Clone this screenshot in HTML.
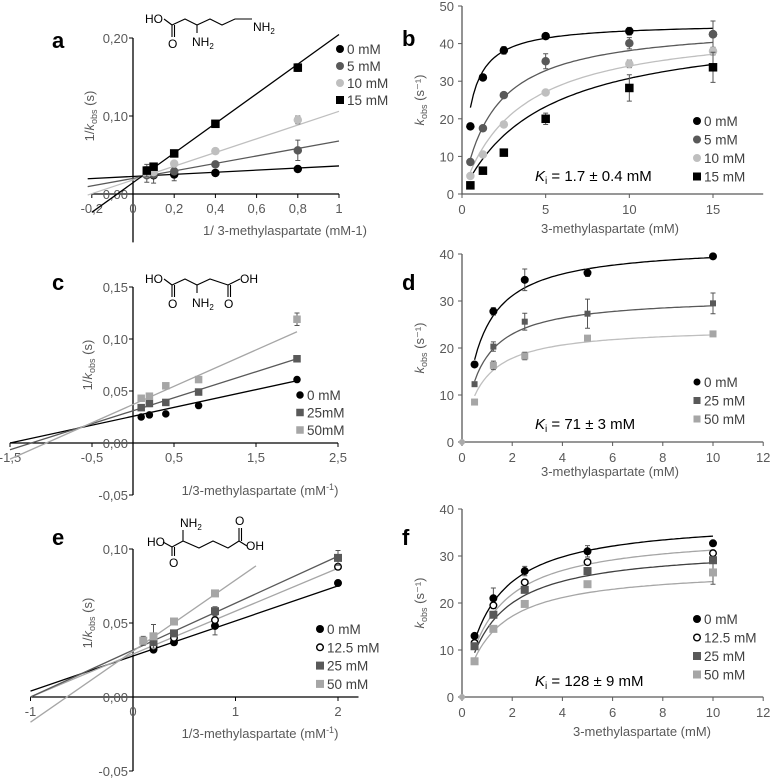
<!DOCTYPE html>
<html><head><meta charset="utf-8">
<style>
html,body{margin:0;padding:0;background:#fff;}
svg{display:block;font-family:"Liberation Sans",sans-serif;}
.tk{font-size:13px;fill:#595959;}
.ttl{font-size:13px;fill:#595959;}
.lg{font-size:13.5px;fill:#404040;}
.pl{font-size:22px;font-weight:bold;fill:#000;}
.ch{font-size:12px;fill:#000;}
</style></head>
<body>
<svg id="fig" width="771" height="778" viewBox="0 0 771 778" xmlns="http://www.w3.org/2000/svg"></svg>
<script>
// ---------- Panel a data (Lineweaver-Burk) ----------
const A_x=[0.067,0.1,0.2,0.4,0.8];
const A_names=["0 mM","5 mM","10 mM","15 mM"];
const A_vals=[[0.025,0.024,0.025,0.027,0.032],[0.024,0.025,0.029,0.038,0.056],[0.026,0.028,0.039,0.055,0.095],[0.030,0.035,0.052,0.090,0.162]];
const A_err=[[0.010,0.010,0.008,0,0],[0,0,0,0,0.013],[0,0,0,0,0.005],[0.008,0,0,0,0.005]];
const A_int=[0.0225,0.020,0.018,0.0145];
const A_slope=[0.0135,0.048,0.088,0.19];
const A_xticks=["-0,2","0","0,2","0,4","0,6","0,8","1"];
const A_xtickv=[-0.2,0,0.2,0.4,0.6,0.8,1];
const A_yticks=["0,00","0,10","0,20"];
const A_ytickv=[0,0.1,0.2];
// ---------- Panel b data ----------
const B_x=[0.5,1.25,2.5,5,10,15];
const B_names=["0 mM","5 mM","10 mM","15 mM"];
const B_vals=[[18,31,38.2,42,43.3,42.5],[8.5,17.5,26.3,35.3,40.1,42.5],[4.8,10.5,18.5,27,34.6,38],[2.3,6.2,11,20,28.2,33.7]];
const B_err=[[0,0,1,0,1,0],[0,0,0,2,1.5,3.5],[0,0,0,0,1,1],[0,0,0,1.5,3.5,4]];
const B_vmax=[45.5,45.5,45.5,45.5];
const B_km=[0.49,1.93,3.37,4.8];
const B_yticks=[0,10,20,30,40,50];
const B_xticks=[0,5,10,15];
// ---------- Panel c data ----------
const C_x=[0.1,0.2,0.4,0.8,2];
const C_names=["0 mM","25mM","50mM"];
const C_vals=[[0.025,0.027,0.028,0.036,0.061],[0.034,0.038,0.039,0.049,0.081],[0.043,0.045,0.055,0.061,0.119]];
const C_err=[[0,0,0,0,0],[0,0.003,0,0,0],[0,0,0,0,0.006]];
const C_int=[0.0257,0.031,0.037];
const C_slope=[0.0171,0.025,0.035];
const C_xticks=["-1,5","-0,5","0,5","1,5","2,5"];
const C_xtickv=[-1.5,-0.5,0.5,1.5,2.5];
const C_yticks=["-0,05","0,00","0,05","0,10","0,15"];
const C_ytickv=[-0.05,0,0.05,0.1,0.15];
// ---------- Panel d data ----------
const D_x=[0.5,1.25,2.5,5,10];
const D_names=["0 mM","25 mM","50 mM"];
const D_vals=[[16.5,27.8,34.5,36,39.5],[12.3,20.3,25.6,27.3,29.5],[8.5,16.3,18.3,22.1,23]];
const D_err=[[0,0.8,2.3,0.8,0],[0,1,1.8,3.1,2.2],[0,0.9,0.8,0,0]];
const D_vmax=[42,31,24.5];
const D_km=[0.7,0.7,0.75];
const D_yticks=[0,10,20,30,40];
const D_xticks=[0,2,4,6,8,10,12];
// ---------- Panel e data ----------
const E_x=[0.1,0.2,0.4,0.8,2];
const E_names=["0 mM","12.5 mM","25 mM","50 mM"];
const E_vals=[[null,0.032,0.037,0.048,0.077],[null,0.034,0.040,0.052,0.088],[null,0.037,0.043,0.058,0.094],[0.038,0.041,0.051,0.070,null]];
const E_err=[[0,0,0,0.006,0],[0,0,0,0,0],[0,0,0,0.003,0.005],[0.003,0.008,0,0,0]];
const E_int=[0.0277,0.029,0.0317,0.031];
const E_slope=[0.0237,0.029,0.0317,0.048];
const E_lineEnd=[2,2,2,1.2];
const E_xticks=["-1","0","1","2"];
const E_xtickv=[-1,0,1,2];
const E_yticks=["-0,05","0,00","0,05","0,10"];
const E_ytickv=[-0.05,0,0.05,0.1];
// ---------- Panel f data ----------
const F_x=[0.5,1.25,2.5,5,10];
const F_names=["0 mM","12.5 mM","25 mM","50 mM"];
const F_vals=[[13,21,26.8,31,32.7],[11.5,19.5,24.4,28.7,30.6],[10.8,17.5,22.8,26.8,29.1],[7.6,14.5,19.8,24,26.5]];
const F_err=[[0,2.2,1,1.2,0],[0,0,0,0,0],[0,0,0,0,0],[0,0,0,0,2.5]];
const F_vmax=[38,35,32,27.5];
const F_km=[1.1,1.2,1.2,1.2];
const F_yticks=[0,10,20,30,40];
const F_xticks=[0,2,4,6,8,10,12];

const NS="http://www.w3.org/2000/svg";
const fig=document.getElementById('fig');
function mk(tag,attrs,parent,txt){const e=document.createElementNS(NS,tag);for(const k in attrs)e.setAttribute(k,attrs[k]);if(txt!==undefined)e.textContent=txt;(parent||fig).appendChild(e);return e;}
function lin(d0,d1,p0,p1){return v=>p0+(v-d0)*(p1-p0)/(d1-d0);}

function marker(g,shape,color,cx,cy,size){
  let m;
  if(shape==='c'){m=mk('circle',{cx:cx,cy:cy,r:size/2,fill:color},g);}
  else if(shape==='o'){m=mk('circle',{cx:cx,cy:cy,r:size/2-0.7,fill:'#fff',stroke:'#000','stroke-width':1.4},g);}
  else {m=mk('rect',{x:cx-size/2,y:cy-size/2,width:size,height:size,fill:color},g);}
  
  
  return m;
}
function errbar(g,x,y1,y2){
  if(Math.abs(y1-y2)<0.5)return;
  const e=mk('path',{d:`M${x},${y1}V${y2}M${x-2.5},${y1}H${x+2.5}M${x-2.5},${y2}H${x+2.5}`,stroke:'#555','stroke-width':1,fill:'none'},g);
  
  
}
function legend(g,x,y0,dy,names,shapes,colors,size){
  names.forEach((n,i)=>{
    const lg=mk('g',{},g);
    
    
    marker(lg,shapes[i],colors[i],x,y0+i*dy,size);
    mk('text',{x:x+7,y:y0+i*dy+5,class:'lg'},lg,n);
  });
}
function txt(g,x,y,s,cls,anchor,name){const t=mk('text',{x:x,y:y,class:cls,'text-anchor':anchor||'start'},g,s);return t;}

function lbPanel(name,label,lx,ly,sx,sy,xr,yr,xticks,xtickv,yticks,ytickv,xs,vals,err,ints,slopes,lineStart,lineEnd,shapes,pcolors,lcolors,size,axisColor){
  const g=mk('g',{});
  
  
  txt(g,lx,ly,label,'pl','start','panel-label');
  const ax=mk('path',{d:`M${sx(xr[0])},${sy(0)}H${sx(xr[1])}M${sx(0)},${sy(yr[0])}V${sy(yr[1])}`,stroke:axisColor,'stroke-width':1.3,fill:'none'},g);
  
  
  xtickv.forEach((v,i)=>{mk('line',{x1:sx(v),x2:sx(v),y1:sy(0),y2:sy(0)+4,stroke:axisColor},g);txt(g,sx(v),sy(0)+19,xticks[i],'tk','middle','x-tick-label');});
  ytickv.forEach((v,i)=>{mk('line',{x1:sx(0)-4,x2:sx(0),y1:sy(v),y2:sy(v),stroke:axisColor},g);txt(g,sx(0)-5,sy(v)+5,yticks[i],'tk','end','y-tick-label');});
  vals.forEach((s,k)=>{
    const x1=lineStart[k],x2=lineEnd[k];
    const l=mk('line',{x1:sx(x1),y1:sy(ints[k]+slopes[k]*x1),x2:sx(x2),y2:sy(ints[k]+slopes[k]*x2),stroke:lcolors[k],'stroke-width':1.3},g);
    
    
  });
  vals.forEach((s,k)=>{
    s.forEach((v,i)=>{ if(v===null)return;
      errbar(g,sx(xs[i]),sy(v-err[k][i]),sy(v+err[k][i]));
      marker(g,shapes[k],pcolors[k],sx(xs[i]),sy(v),size);
    });
  });
  return g;
}
function mmPanel(name,label,lx,ly,sx,sy,xmax,ymax,xticks,yticks,xs,vals,err,vmax,km,shapes,pcolors,lcolors,sizes,curveEnd,zeroDot){
  const g=mk('g',{});
  
  
  txt(g,lx,ly,label,'pl','start','panel-label');
  const ax=mk('path',{d:`M${sx(0)},${sy(ymax)}V${sy(0)}H${sx(xmax)}`,stroke:'#595959','stroke-width':1.3,fill:'none'},g);
  
  
  yticks.forEach(v=>{mk('line',{x1:sx(0)-4,x2:sx(0),y1:sy(v),y2:sy(v),stroke:'#595959'},g);txt(g,sx(0)-8,sy(v)+5,String(v),'tk','end','y-tick-label');});
  xticks.forEach(v=>{mk('line',{x1:sx(v),x2:sx(v),y1:sy(0),y2:sy(0)+4,stroke:'#595959'},g);txt(g,sx(v),sy(0)+20,String(v),'tk','middle','x-tick-label');});
  if(zeroDot){const z=mk('circle',{cx:sx(0),cy:sy(0),r:3,fill:'#aaa'},g);}
  vmax.forEach((V,k)=>{
    let d='';
    for(let i=0;i<=80;i++){const x=xs[0]+(curveEnd-xs[0])*i/80;const y=V*x/(km[k]+x);d+=(i?'L':'M')+sx(x).toFixed(1)+','+sy(y).toFixed(1);}
    const p=mk('path',{d:d,stroke:lcolors[k],'stroke-width':1.3,fill:'none'},g);
    
    
  });
  vals.forEach((s,k)=>{
    s.forEach((v,i)=>{
      errbar(g,sx(xs[i]),sy(v-err[k][i]),sy(v+err[k][i]));
      marker(g,shapes[k],pcolors[k],sx(xs[i]),sy(v),sizes[k]);
    });
  });
  return g;
}
function ytitle(g,x,y){
  const t=mk('text',{x:0,y:0,class:'ttl','text-anchor':'middle',transform:`translate(${x},${y}) rotate(-90)`},g);
  
  
  return t;
}
function kobsTitle(g,x,y,pre,post){
  const t=ytitle(g,x,y);
  if(pre)mk('tspan',{},t,pre);
  mk('tspan',{'font-style':'italic'},t,'k');
  mk('tspan',{'font-size':'9','dy':'3'},t,'obs');
  mk('tspan',{'dy':'-3'},t,post);
}
function kiText(g,x,y,val){
  const t=mk('text',{x:x,y:y,'font-size':'15',fill:'#000'},g);
  
  
  mk('tspan',{'font-style':'italic'},t,'K');
  mk('tspan',{'font-size':'10','dy':'3'},t,'i');
  mk('tspan',{'dy':'-3'},t,' = '+val);
}
function xtitle(g,x,y,s,sup){
  const t=mk('text',{x:x,y:y,class:'ttl','text-anchor':'middle'},g,s);
  
  
  if(sup){mk('tspan',{'font-size':'9',dy:'-5'},t,sup);mk('tspan',{dy:'5'},t,')');}
}

// ---- Panel a ----
{const sx=lin(0,1,133,339),sy=lin(0,0.2,194,38);
const g=lbPanel('panel-a','a',52,48,sx,sy,[-0.2,1],[-0.062,0.2],A_xticks,A_xtickv,A_yticks,A_ytickv,A_x,A_vals,A_err,A_int,A_slope,[-0.22,-0.22,-0.22,-0.2],[1,1,1,1],['c','c','c','s'],['#000','#595959','#bfbfbf','#000'],['#000','#595959','#bfbfbf','#000'],8.5,'#000');
kobsTitle(g,94,116,'1/',' (s)');
xtitle(g,285,235,'1/ 3-methylaspartate (mM-1)');
legend(g,340,49,17,A_names,['c','c','c','s'],['#000','#595959','#bfbfbf','#000'],8);}
// ---- Panel b ----
{const sx=lin(0,15,462,713),sy=lin(0,50,194,6);
const g=mmPanel('panel-b','b',402,46,sx,sy,18,50,B_xticks,B_yticks,B_x,B_vals,B_err,B_vmax,B_km,['c','c','c','s'],['#000','#595959','#bfbfbf','#000'],['#000','#595959','#bfbfbf','#000'],[8.5,8.5,8.5,8.5],15,false);
kobsTitle(g,424,100,'',' (s\u207B\u00B9)');
xtitle(g,610,233,'3-methylaspartate (mM)');
legend(g,697,121,18.5,B_names,['c','c','c','s'],['#000','#595959','#bfbfbf','#000'],8);
kiText(g,535,181,'1.7 \u00B1 0.4 mM');}
// ---- Panel c ----
{const sx=lin(0,2.5,133,338),sy=lin(0,0.05,443,391);
const g=lbPanel('panel-c','c',52,290,sx,sy,[-1.5,2.5],[-0.05,0.15],C_xticks,C_xtickv,C_yticks,C_ytickv,C_x,C_vals,C_err,C_int,C_slope,[-1.5,-1.5,-1.5],[2,2,2],['c','s','s'],['#000','#595959','#a6a6a6'],['#000','#595959','#a6a6a6'],7.5,'#000');
kobsTitle(g,92,365,'1/',' (s)');
xtitle(g,260,495,'1/3-methylaspartate (mM','-1');
legend(g,300,395,17.5,C_names,['c','s','s'],['#000','#595959','#a6a6a6'],7.5);}
// ---- Panel d ----
{const sx=lin(0,10,462,713),sy=lin(0,10,442,395);
const g=mmPanel('panel-d','d',402,290,sx,sy,12,40,D_xticks,D_yticks,D_x,D_vals,D_err,D_vmax,D_km,['c','s','s'],['#000','#595959','#a6a6a6'],['#000','#595959','#bfbfbf'],[8,6,7],10,true);
kobsTitle(g,424,348,'',' (s\u207B\u00B9)');
xtitle(g,610,476,'3-methylaspartate (mM)');
legend(g,697,382,18.5,D_names,['c','s','s'],['#000','#595959','#a6a6a6'],7);
kiText(g,535,429,'71 \u00B1 3 mM');}
// ---- Panel e ----
{const sx=lin(0,2,133,338),sy=lin(0,0.1,697,549);
const g=lbPanel('panel-e','e',52,545,sx,sy,[-1,2.2],[-0.05,0.1],E_xticks,E_xtickv,E_yticks,E_ytickv,E_x,E_vals,E_err,E_int,E_slope,[-1,-1,-1,-1],E_lineEnd,['c','o','s','s'],['#000','#fff','#595959','#a6a6a6'],['#000','#a6a6a6','#595959','#a6a6a6'],8,'#000');
kobsTitle(g,92,623,'1/',' (s)');
xtitle(g,260,738,'1/3-methylaspartate (mM','-1');
legend(g,320,629,18.3,E_names,['c','o','s','s'],['#000','#fff','#595959','#a6a6a6'],8);}
// ---- Panel f ----
{const sx=lin(0,10,462,713),sy=lin(0,10,697,650);
const g=mmPanel('panel-f','f',402,545,sx,sy,12,40,F_xticks,F_yticks,F_x,F_vals,F_err,F_vmax,F_km,['c','o','s','s'],['#000','#fff','#595959','#a6a6a6'],['#000','#a6a6a6','#404040','#a6a6a6'],[8,8,8,8],10,true);
kobsTitle(g,424,603,'',' (s\u207B\u00B9)');
xtitle(g,642,736,'3-methylaspartate (mM)');
legend(g,697,619,18.5,F_names,['c','o','s','s'],['#000','#fff','#595959','#a6a6a6'],8);
kiText(g,535,686,'128 \u00B1 9 mM');}

// ---- chemical structures ----
function chem(name,d,labels){
  const g=mk('g',{});
  
  
  mk('path',{d:d,stroke:'#000','stroke-width':1.1,fill:'none'},g);
  labels.forEach(l=>{const t=mk('text',{x:l[0],y:l[1],class:'ch'},g);mk('tspan',{},t,l[2]);if(l[3]){mk('tspan',{'font-size':'8',dy:'3'},t,l[3]);}});
}
chem('structure-a','M164,19L172,25M172,25V37M174.5,25V37M172,25L185,19L197,25L210,19L222,25L235,19L252,19M197,25V33',
  [[145,23,'HO'],[168,48,'O'],[192,46,'NH','2'],[253,31,'NH','2']]);
chem('structure-c','M164,279L172,285M172,285V297M174.5,285V297M172,285L185,279L197,285L210,279L228,285M228,285V297M230.5,285V297M228,285L240,279M197,285V293',
  [[145,283,'HO'],[168,308,'O'],[192,307,'NH','2'],[240,283,'OH'],[224,308,'O']]);
chem('structure-e','M163,542L172,547M172,547V556M174.5,547V556M172,547L183,541L199,548L213,541L228,548L239,541M183,541V530M239,541V528M241.5,541V528M239,541L247,546',
  [[147,546,'HO'],[169,567,'O'],[180,527,'NH','2'],[235,525,'O'],[246,550,'OH']]);
</script>
</body></html>
